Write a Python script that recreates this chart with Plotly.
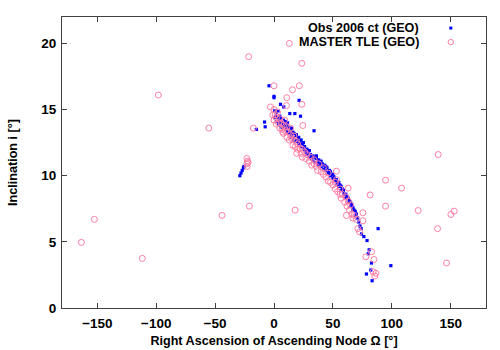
import plotly.graph_objects as go

# ---------------- data ----------------
obs_x = [0.5, 0.5, 1.5, 2, 2, 3, 3.5, 4, 4, 5, 5.5, 6, 6, 7, 7.5, 8, 8, 9, 9.5, 10, 10,
         11, 11.5, 11.5, 12, 13, 13, 14, 14.5, 15, 15, 16, 17, 17, 18, 19, 19, 20, 21, 21,
         22, 23, 23, 24, 25, 25, 26, 27, 28, 28, 29, 30, 30, 31, 32, 33, 33, 34, 35, 36, 36,
         37, 38, 38, 39, 40, 40, 41, 42, 43, 44, 44, 45, 46, 47, 48, 48, 49, 50, 50, 51, 52,
         53, 53, 54, 55, 55, 56, 57, 57, 58, 59, 59, 60, 61, 61, 62, 63, 63, 64, 65, 65, 66,
         67, 67, 68, 69, 69, 70, 71, 72, 73, 74,
         74.3, 76.3, 79, 80.8, 80, 82.8, 78.5, 82.2, 83.3, 99.2, 88.4,
         -29, -28, -27, -26, -25.5,
         -8, -7.5, -15, -4.2, 0, 0, 5.5, 8.3, 21.3, 13.4, 17.7, 22.5, 34, 16.2]
obs_y = [14.9, 14.4, 14.5, 14.8, 14.1, 14.4, 14.9, 14.2, 13.9, 14.5, 14.0, 14.3, 13.7, 14.1,
         13.6, 14.2, 13.9, 13.7, 14.1, 13.5, 13.9, 13.6, 14.0, 13.3, 13.7, 13.2, 13.6, 13.4,
         12.9, 13.6, 13.1, 13.3, 12.8, 13.2, 12.9, 12.6, 13.1, 12.8, 12.4, 12.9, 12.6, 12.2,
         12.7, 12.4, 12.0, 12.5, 12.2, 11.8, 12.0, 11.6, 11.8, 11.4, 11.9, 11.6, 11.3, 11.5,
         11.1, 11.4, 11.0, 11.3, 11.5, 11.0, 10.8, 11.2, 10.9, 10.7, 11.1, 10.9, 10.5, 10.8,
         10.4, 10.7, 10.6, 10.2, 10.4, 10.0, 10.3, 10.1, 9.8, 10.1, 9.9, 9.6, 9.7, 9.4, 9.5,
         9.2, 9.5, 9.3, 8.9, 9.2, 9.0, 8.7, 8.9, 8.6, 8.3, 8.6, 8.4, 8.0, 8.3, 8.1, 7.7, 8.0,
         7.8, 7.4, 7.6, 7.4, 7.0, 7.3, 7.1, 6.8, 6.5, 6.2, 6.0,
         5.6, 5.4, 5.1, 4.4, 4.1, 3.4, 2.57, 2.87, 2.06, 3.2, 6.0,
         10.0, 10.2, 10.4, 10.6, 10.7,
         14.06, 13.7, 13.5, 16.8, 16.0, 15.9, 15.4, 15.2, 15.7, 14.7, 14.7, 14.5, 13.4, 12.6]

master_x = [-1, 0, 0, 1, 2, 2, 3, 4, 5, 5, 6, 7, 8, 8, 9, 10, 11, 11, 12, 13, 14, 14, 15, 16,
            17, 17, 18, 19, 20, 20, 22, 23, 24, 24, 26, 27, 28, 30, 31, 32, 34, 34, 36, 37, 38,
            40, 42, 42, 44, 46, 46, 48, 50, 52, 52, 53, 54, 56, 56, 57, 58, 60, 61, 62, 63,
            64, 65, 66, 67, 68, 70, 71.2, 72.7, 61.5,
            53, 63, 75.5, 75.5, 81.6, 94.7, 94.7, 108.3, 122.4, 138.9, 139.4, 150.2, 153, 146.5,
            82.8, 78, 84.8, 84.2, 86.5, 85.6,
            13, -21.5, 23.6, -98.2, -55.4, -17.5, -23, -22.5, -23, -22.8, -22, -20.9, -44.1,
            -152.5, -163.6, -111.8, 17.9, -3, 0, 10.8, 15.7, 21.5, 23.6, 10.6, 7.5, 24.5, 19.2]
master_y = [14.6, 14.2, 15.0, 14.6, 13.9, 14.4, 14.8, 14.0, 13.6, 14.3, 14.0, 13.5, 13.8, 13.2,
            14.2, 13.4, 12.9, 13.7, 13.3, 12.7, 13.1, 13.6, 12.8, 12.3, 12.7, 13.0, 12.2, 12.6,
            12.0, 12.4, 12.1, 11.7, 12.0, 11.4, 11.8, 11.3, 11.6, 11.1, 11.4, 10.8, 10.9, 11.2,
            10.7, 10.4, 10.9, 10.3, 10.1, 10.6, 9.9, 9.6, 10.2, 9.5, 9.3, 9.0, 9.5, 9.7, 8.8,
            8.6, 9.0, 8.3, 8.6, 8.0, 8.4, 7.7, 8.1, 7.4, 7.8, 7.1, 6.8, 7.0, 6.7, 6.0, 5.76, 7.0,
            10.34, 9.06, 7.2, 6.6, 8.55, 9.66, 7.7, 9.06, 7.37, 6.0, 11.6, 7.07, 7.32, 3.4,
            4.25, 3.87, 3.67, 2.74, 2.62, 2.42,
            20.0, 19.0, 18.5, 16.1, 13.6, 13.6, 11.3, 11.1, 10.9, 10.7, 11.0, 7.7, 7.0,
            6.7, 4.96, 3.75, 7.4, 15.2, 16.8, 15.9, 16.5, 16.8, 15.4, 15.3, 13.3, 13.8, 11.7]

x_ticks = [-150, -100, -50, 0, 50, 100, 150]
y_ticks = [0, 5, 10, 15, 20]
series_names = ["Obs 2006 ct (GEO)", "MASTER TLE (GEO)"]

BLUE = "#0000ff"
PINK = "#ff7fa5"
FONT = "Liberation Sans, Arial, sans-serif"
TICKFONT = dict(family=FONT, size=13.5, color="#000", weight="bold")
TXTFONT = dict(family=FONT, size=12.6, color="#000", weight="bold")

fig = go.Figure()
fig.add_trace(go.Scatter(x=obs_x, y=obs_y, mode="markers", name=series_names[0],
                         marker=dict(symbol="square", size=3.2, color=BLUE, line=dict(width=0))))
fig.add_trace(go.Scatter(x=master_x, y=master_y, mode="markers", name=series_names[1],
                         marker=dict(symbol="circle-open", size=6, color=PINK, line=dict(width=1, color=PINK))))

axis_common = dict(showgrid=False, zeroline=False, showline=True, linecolor="#404040", linewidth=1,
                   mirror="ticks", ticks="inside", ticklen=5, tickcolor="#404040",
                   tickfont=TICKFONT, automargin=False)

fig.update_xaxes(range=[-180, 180], tickvals=x_ticks, ticklabelstandoff=3, **axis_common,
                 title=dict(text="Right Ascension of Ascending Node Ω [°]", font=TXTFONT, standoff=5))
fig.update_yaxes(range=[0, 22], tickvals=y_ticks, ticklabelstandoff=2, **axis_common,
                 title=dict(text="Inclination i [°]", font=TXTFONT, standoff=20))

# gnuplot-style legend: right-aligned text with marker sample on the right
leg_x_text = 0.847
leg_x_mark = 0.917
leg_y = [0.962, 0.914]
for name, yy in zip(series_names, leg_y):
    fig.add_annotation(xref="paper", yref="paper", x=leg_x_text, y=yy, text=name,
                       showarrow=False, xanchor="right", yanchor="middle", font=TXTFONT)
fig.add_shape(type="rect", xref="paper", yref="paper", xsizemode="pixel", ysizemode="pixel",
              xanchor=leg_x_mark, yanchor=leg_y[0], x0=-1.5, x1=1.5, y0=-1.5, y1=1.5,
              fillcolor=BLUE, line=dict(width=0))
fig.add_shape(type="circle", xref="paper", yref="paper", xsizemode="pixel", ysizemode="pixel",
              xanchor=leg_x_mark, yanchor=leg_y[1], x0=-2.7, x1=2.7, y0=-2.7, y1=2.7,
              fillcolor="rgba(0,0,0,0)", line=dict(width=1, color=PINK))

fig.update_layout(width=500, height=350, margin=dict(l=62, r=14, t=17, b=42),
                  paper_bgcolor="white", plot_bgcolor="white", showlegend=False,
                  font=dict(family=FONT, size=12, color="#000"))

fig.write_html("out.html")
